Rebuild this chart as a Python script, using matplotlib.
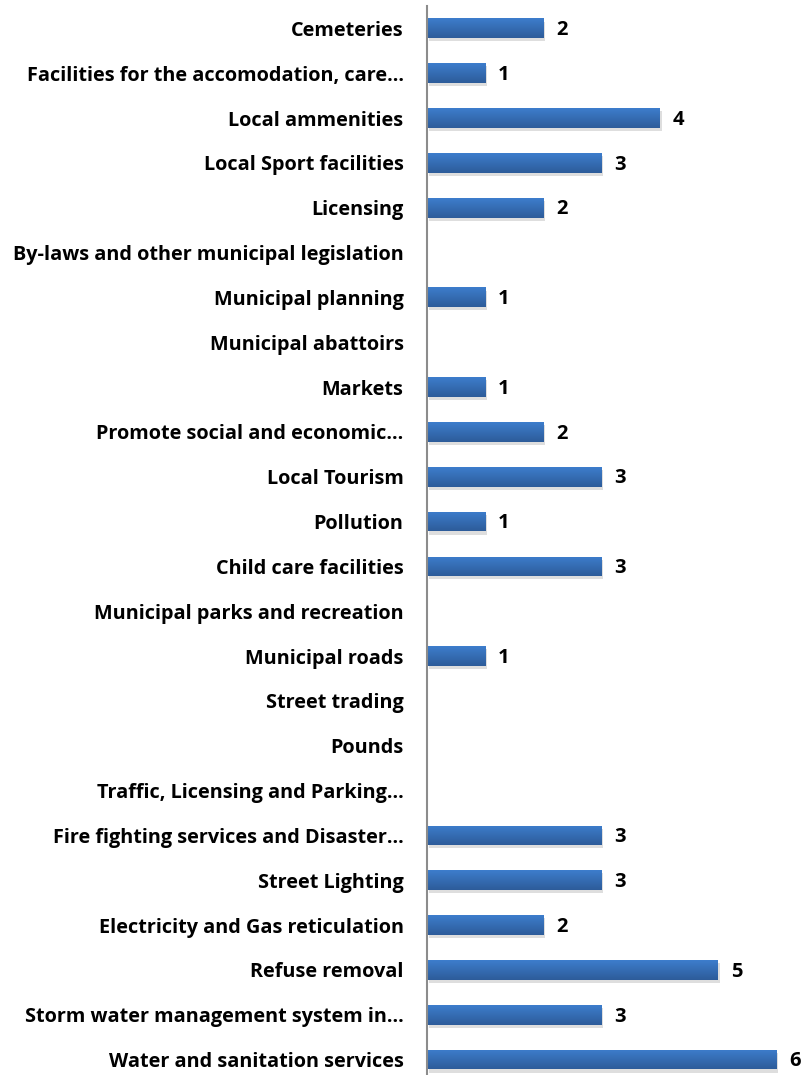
import numpy as np
import matplotlib
matplotlib.use('Agg')
import matplotlib.pyplot as plt
from matplotlib.colors import LinearSegmentedColormap

# categories, top to bottom as in the chart
categories = [
    "Cemeteries",
    "Facilities for the accomodation, care\u2026",
    "Local ammenities",
    "Local Sport facilities",
    "Licensing",
    "By-laws and other municipal legislation",
    "Municipal planning",
    "Municipal abattoirs",
    "Markets",
    "Promote social and economic\u2026",
    "Local Tourism",
    "Pollution",
    "Child care facilities",
    "Municipal parks and recreation",
    "Municipal roads",
    "Street trading",
    "Pounds",
    "Traffic, Licensing and Parking\u2026",
    "Fire fighting services and Disaster\u2026",
    "Street Lighting",
    "Electricity and Gas reticulation",
    "Refuse removal",
    "Storm water management system in\u2026",
    "Water and sanitation services",
]
counts = [2, 1, 4, 3, 2, 0, 1, 0, 1, 2, 3, 1, 3, 0, 1, 0, 0, 0, 3, 3, 2, 5, 3, 6]

plt.rcParams['font.family'] = ['Open Sans', 'DejaVu Sans']

fig = plt.figure(figsize=(8.06, 10.75), dpi=100)
ax = fig.add_axes([0.530, -0.0065, 0.470, 1.001])

y = np.arange(len(categories))
bar_h = 0.44

# soft shadow
ax.barh(y + 0.07, counts, height=bar_h, left=0.03, color='#000000', alpha=0.13, zorder=1)
bars = ax.barh(y, counts, height=bar_h, color='#3672BD', zorder=2)

# vertical gradient inside each bar (lighter on top)
grad = LinearSegmentedColormap.from_list('g', ['#3D7DCC', '#2D5C9A'])
for b, v in zip(bars, counts):
    if v <= 0:
        continue
    x0, y0 = b.get_x(), b.get_y()
    w, h = b.get_width(), b.get_height()
    im = ax.imshow(np.linspace(0, 1, 50).reshape(-1, 1), cmap=grad, aspect='auto',
                   extent=(x0, x0 + w, y0 + h, y0), origin='upper', zorder=3)
    im.set_clip_path(b)

for yi, v in zip(y, counts):
    if v > 0:
        ax.text(v + 0.22, yi + 0.04, str(v), va='center', ha='left', fontsize=14.5,
                fontweight='bold', color='black', zorder=4)

ax.set_xlim(0, 6.51)
ax.set_ylim(len(categories) - 0.5, -0.5)
ax.set_yticks(y)
ax.set_yticklabels(categories, fontsize=14.3, fontweight='bold')
ax.tick_params(axis='y', length=0, pad=17)
ax.set_xticks([])
for s in ['top', 'right', 'bottom']:
    ax.spines[s].set_visible(False)
ax.spines['left'].set_color('#8C8C8C')
ax.spines['left'].set_linewidth(1.5)
ax.spines['left'].set_zorder(5)

plt.savefig("out.png", dpi=100)
